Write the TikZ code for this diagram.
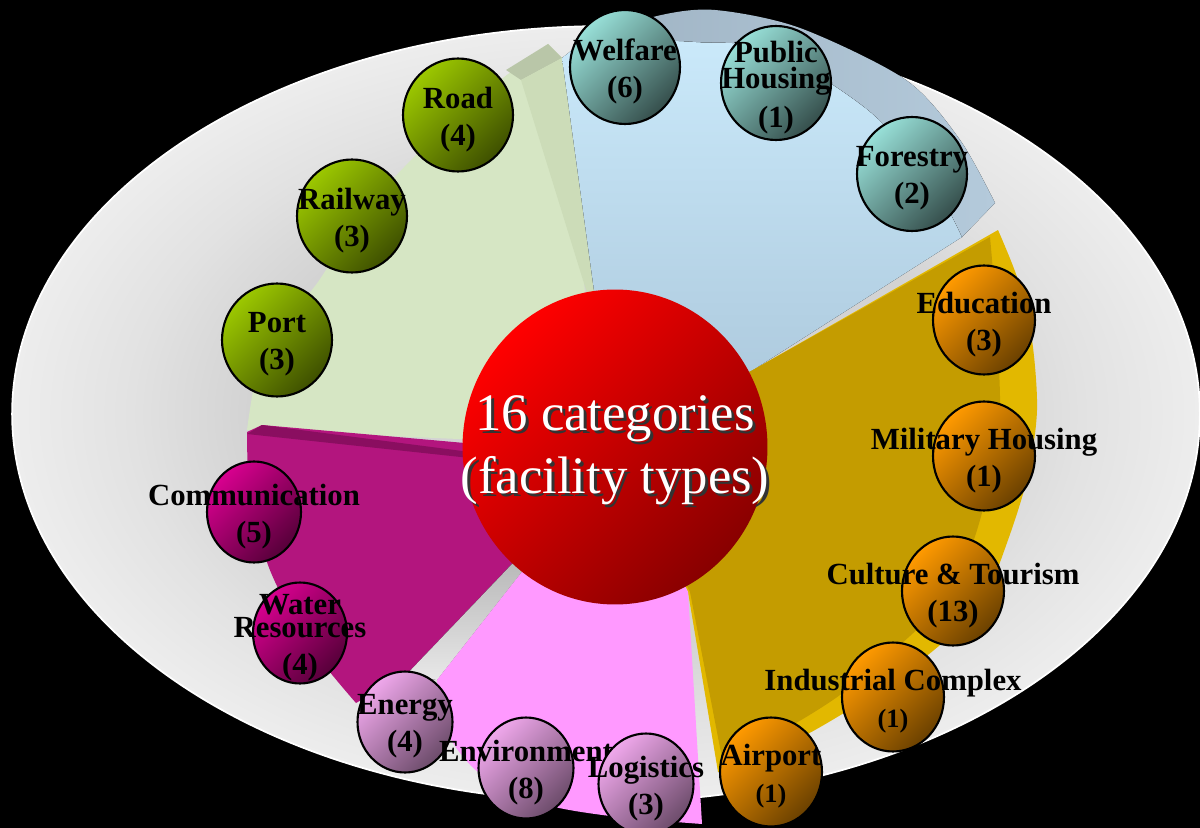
\documentclass[tikz,border=0pt]{standalone}
\usepackage{fontspec}
\setmainfont{Liberation Serif}
\usetikzlibrary{shapes.geometric}

\definecolor{rimlight}{HTML}{EDEDED}
\definecolor{rimmid}{HTML}{E2E2E2}
\definecolor{rimdark}{HTML}{D3D3D3}
\definecolor{wedgegreen}{HTML}{D6E6C4}
\definecolor{greentop}{HTML}{B9C6A8}
\definecolor{greenside}{HTML}{CCDCB8}
\definecolor{bluetop}{HTML}{CAE9FA}
\definecolor{bluebot}{HTML}{A9C5D9}
\definecolor{bluerim}{HTML}{9FB3C3}
\definecolor{bluerimend}{HTML}{B4CADB}
\definecolor{goldlight}{HTML}{E2B800}
\definecolor{golddark}{HTML}{C49C00}
\definecolor{wedgemagenta}{HTML}{B3157E}
\definecolor{magentatop}{HTML}{8A0E60}
\definecolor{wedgepink}{HTML}{FF99FF}
\definecolor{hubred}{HTML}{FF0000}
\definecolor{hubdark}{HTML}{880000}
\definecolor{ballgreen}{HTML}{9CC800}
\definecolor{ballteal}{HTML}{98E0D8}
\definecolor{ballorange}{HTML}{FF9A00}
\definecolor{ballmagenta}{HTML}{D8008F}
\definecolor{balllilac}{HTML}{F0A8EC}

\pgfdeclareradialshading{rimshade}{\pgfpoint{0bp}{0bp}}{color(0bp)=(rimdark); color(15bp)=(rimdark); color(20bp)=(rimmid); color(25bp)=(rimlight); color(50bp)=(rimlight)}

\newcommand{\hubwords}{16 categories\\(facility types)}

\begin{document}
\begin{tikzpicture}[x=0.02cm, y=-0.02cm,
    ball/.style 2 args={ellipse, draw=black, line width=1.2pt, inner sep=0pt,
        left color=#1, right color=#2, shading angle=45},
    tag/.style={align=center, inner sep=0pt, text=black, yshift=-0.09cm,
        font=\bfseries\fontsize{17.5}{21}\selectfont},
    transport/.style={ball={ballgreen}{ballgreen!40!black}, minimum width=2.2cm, minimum height=2.26cm},
    welfare/.style={ball={ballteal}{ballteal!35!black}, minimum width=2.2cm, minimum height=2.28cm},
    urban/.style={ball={ballorange}{ballorange!42!black}, minimum width=2.04cm, minimum height=2.18cm},
    utility/.style={ball={ballmagenta}{ballmagenta!40!black}, minimum width=1.88cm, minimum height=2.02cm},
    network/.style={ball={balllilac}{balllilac!45!black}, minimum width=1.9cm, minimum height=2.02cm},
    hubtext/.style={align=center, inner sep=0pt, font=\fontsize{30}{36}\selectfont}]

\fill[black] (0,0) rectangle (1200,828);
\useasboundingbox (0,0) rectangle (1200,828);

\shade[shading=rimshade] (606,414) ellipse [x radius=11.88cm, y radius=7.76cm];
\draw[white, line width=1pt] (606,414) ellipse [x radius=11.88cm, y radius=7.76cm];

\fill[wedgegreen] (600,445) -- (247,430) -- plot[smooth] coordinates {(247,430) (258,370) (285,322) (318,282) (362,214) (421,150) (484,93) (548,44)} -- (562,58) -- cycle;
\fill[greentop] (506,70) -- (548,44) -- (562,58) -- (521,80) -- cycle;
\fill[greenside] (521,80) -- (562,58) -- (606,335) -- (600,335) -- cycle;

\fill[top color=bluetop, bottom color=bluebot] (615,443) -- (562,58) -- (585,40) -- plot[smooth] coordinates {(585,40) (640,40) (696,42) (772,50) (868,110) (930,178) (962,237)} -- (753,370) -- cycle;
\fill[left color=bluerim, right color=bluerimend] plot[smooth] coordinates {(585,40) (657,16) (715,10) (800,28) (906,80) (960,140) (995,203)} -- (962,237) -- plot[smooth] coordinates {(962,237) (930,178) (868,110) (772,50) (696,42) (640,40) (585,40)} -- cycle;

\fill[goldlight] (615,443) -- (753,370) -- (998,230) -- plot[smooth] coordinates {(998,230) (1018,280) (1032,340) (1037,410) (1028,475) (1008,540) (983,600) (940,645) (880,690) (815,730) (760,757) (718,772)} -- (688,592) -- cycle;
\fill[golddark] (615,443) -- (753,370) -- (990,237) -- plot[smooth] coordinates {(990,237) (995,300) (1000,410) (990,480) (972,545) (945,600) (900,645) (840,695) (780,732) (722,758)} -- (690,592) -- cycle;

\fill[wedgemagenta] (600,455) -- (262,425) -- (247,432) -- plot[smooth] coordinates {(247,432) (250,500) (268,565) (292,615) (322,662) (356,703)} -- (406,675) -- (513,563) -- cycle;
\fill[magentatop] (247,434) -- (262,425) -- (470,452) -- (470,458) -- cycle;
\fill[top color=gray!55, bottom color=gray!18] (513,563) -- (406,675) -- (437,680) -- (525,568) -- cycle;

\fill[wedgepink] (615,443) -- (525,568) -- (437,680) -- plot[smooth] coordinates {(437,680) (446,730) (478,772) (540,803) (610,816) (702,824)} -- (688,592) -- cycle;

\node[ellipse, minimum width=6.1cm, minimum height=6.3cm, left color=hubred, right color=hubdark, shading angle=45] (hub) at (615,447) {};
\node[hubtext, text=black!80] (hubshadow) at ([shift={(3,6)}]hub) {\hubwords};
\node[hubtext, text=white] (hublabel) at ([shift={(0,3)}]hub) {\hubwords};

\node[transport, label={[tag]center:{Road\\(4)}}] (road) at (458,115) {};
\node[transport, label={[tag]center:{Railway\\(3)}}] (railway) at (352,216) {};
\node[transport, label={[tag]center:{Port\\(3)}}] (port) at (277,340) {};

\node[welfare, label={[tag]center:{Welfare\\(6)}}] (welfare) at (625,67) {};
\node[welfare, label={[tag]center:{Public\\[-6pt]Housing\\[1pt](1)}}] (pubhousing) at (776,83) {};
\node[welfare, label={[tag]center:{Forestry\\(2)}}] (forestry) at (912,174) {};

\node[urban, label={[tag]center:{Education\\(3)}}] (education) at (984,320) {};
\node[urban, label={[tag]center:{Military Housing\\(1)}}] (milhousing) at (984,456) {};
\node[urban, label={[tag]center:{Culture \& Tourism\\(13)}}] (culture) at (953,591) {};
\node[urban, label={[tag]center:{Industrial Complex\\{\fontsize{15}{18}\selectfont(1)}}}] (industrial) at (893,697) {};
\node[urban, label={[tag]center:{Airport\\{\fontsize{15}{18}\selectfont(1)}}}] (airport) at (771,772) {};

\node[utility, label={[tag]center:{Communication\\(5)}}] (communication) at (254,512) {};
\node[utility, label={[tag]center:{Water\\[-8pt]Resources\\(4)}}] (water) at (300,633) {};

\node[network, label={[tag]center:{Energy\\(4)}}] (energy) at (405,722) {};
\node[network, label={[tag]center:{Environment\\(8)}}] (environment) at (526,768) {};
\node[network, label={[tag]center:{Logistics\\(3)}}] (logistics) at (646,784) {};

\end{tikzpicture}
\end{document}
